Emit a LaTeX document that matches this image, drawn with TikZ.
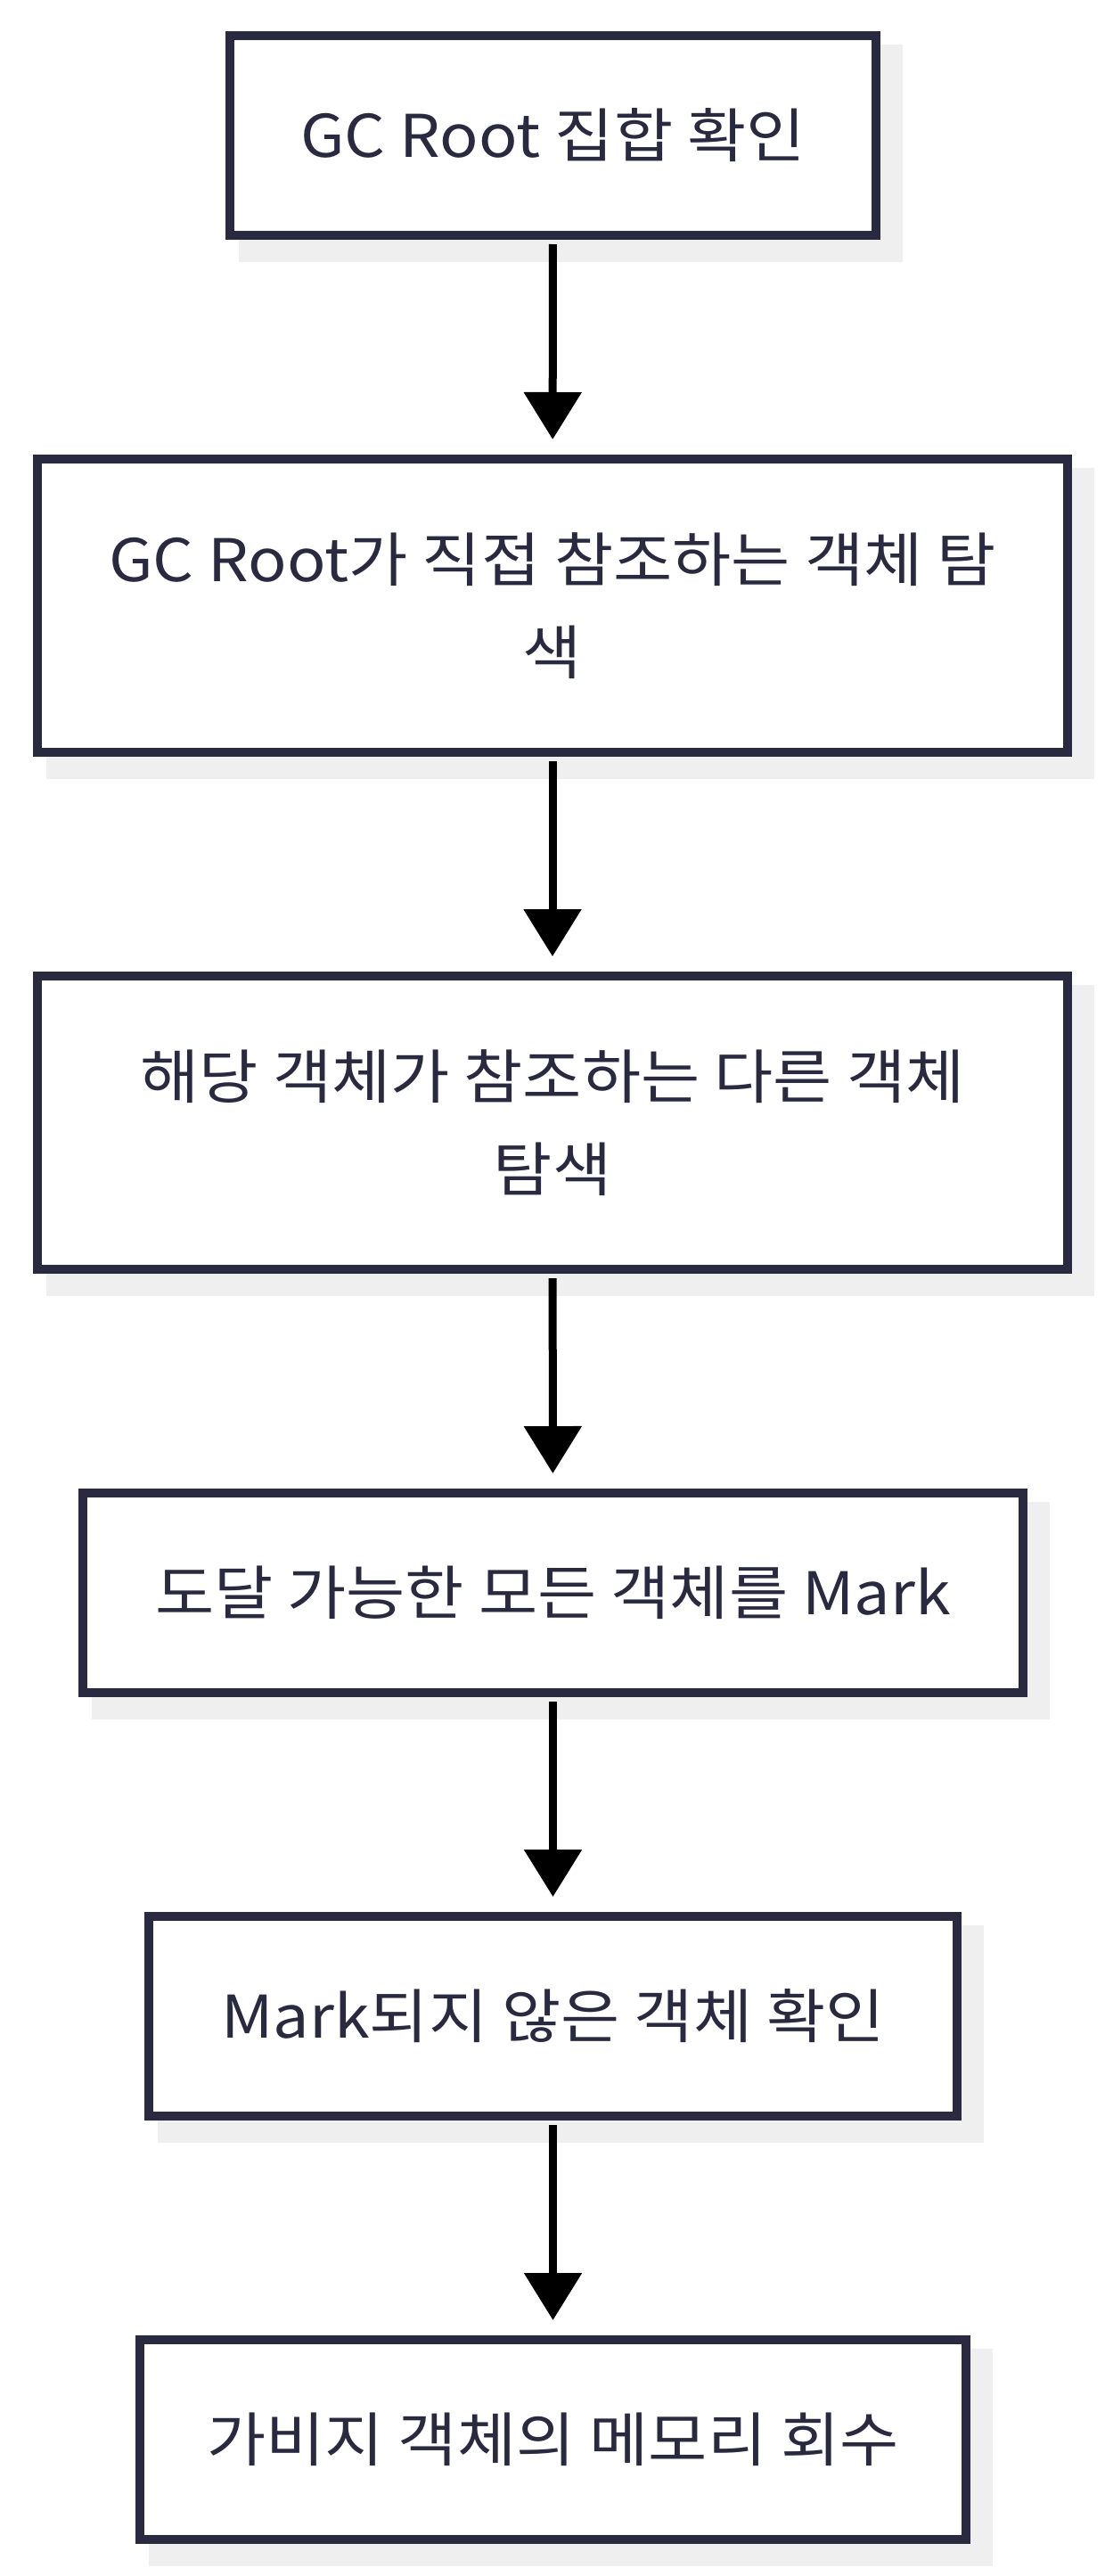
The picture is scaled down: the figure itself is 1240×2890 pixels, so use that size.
\documentclass[tikz,border=0pt]{standalone}
\usepackage{fontspec}
\setmainfont{Noto Sans CJK KR}
\newfontfamily\krwide[FakeStretch=1.09]{Noto Sans CJK KR}
\usetikzlibrary{arrows.meta,backgrounds}
\definecolor{ink}{HTML}{292940}
\definecolor{shade}{HTML}{EFEFEF}
\begin{document}
\begin{tikzpicture}[x=0.5pt,y=-0.5pt,
  box/.style={draw=ink, line width=5pt, fill=white, inner sep=0pt, text=ink, align=center,
    font=\krwide\fontsize{33pt}{52pt}\selectfont, minimum height=112pt},
  tallbox/.style={box, minimum height=164.5pt},
  flow/.style={draw=black, line width=4.5pt, -{Triangle[width=31.5pt,length=26.5pt]},
    shorten <=2.5pt, shorten >=8.5pt},
  shadowfill/.style={fill=shade}]
\useasboundingbox (0,0) rectangle (1240,2890);

\node[box, minimum width=362.5pt] (b1) at (620.5,152) {GC Root 집합 확인};
\node[tallbox, minimum width=578pt] (b2) at (620,679.5) {GC Root가 직접 참조하는 객체 탐\\색};
\node[tallbox, minimum width=578pt] (b3) at (620,1259.5) {해당 객체가 참조하는 다른 객체\\탐색};
\node[box, minimum width=527.5pt] (b4) at (620.5,1787) {도달 가능한 모든 객체를 Mark};
\node[box, minimum width=453.5pt] (b5) at (620.5,2262) {Mark되지 않은 객체 확인};
\node[box, minimum width=463.5pt] (b6) at (620.5,2737) {가비지 객체의 메모리 회수};

\begin{scope}[on background layer]
  \fill[white] (0,0) rectangle (1240,2890);
  \foreach \n in {b1,b2,b3,b4,b5,b6}
    \fill[shadowfill] ([shift={(15,15)}]\n.north west) rectangle ([shift={(25,25)}]\n.south east);
\end{scope}

\draw[flow] (b1) -- (b2);
\draw[flow] (b2) -- (b3);
\draw[flow] (b3) -- (b4);
\draw[flow] (b4) -- (b5);
\draw[flow] (b5) -- (b6);
\end{tikzpicture}
\end{document}
